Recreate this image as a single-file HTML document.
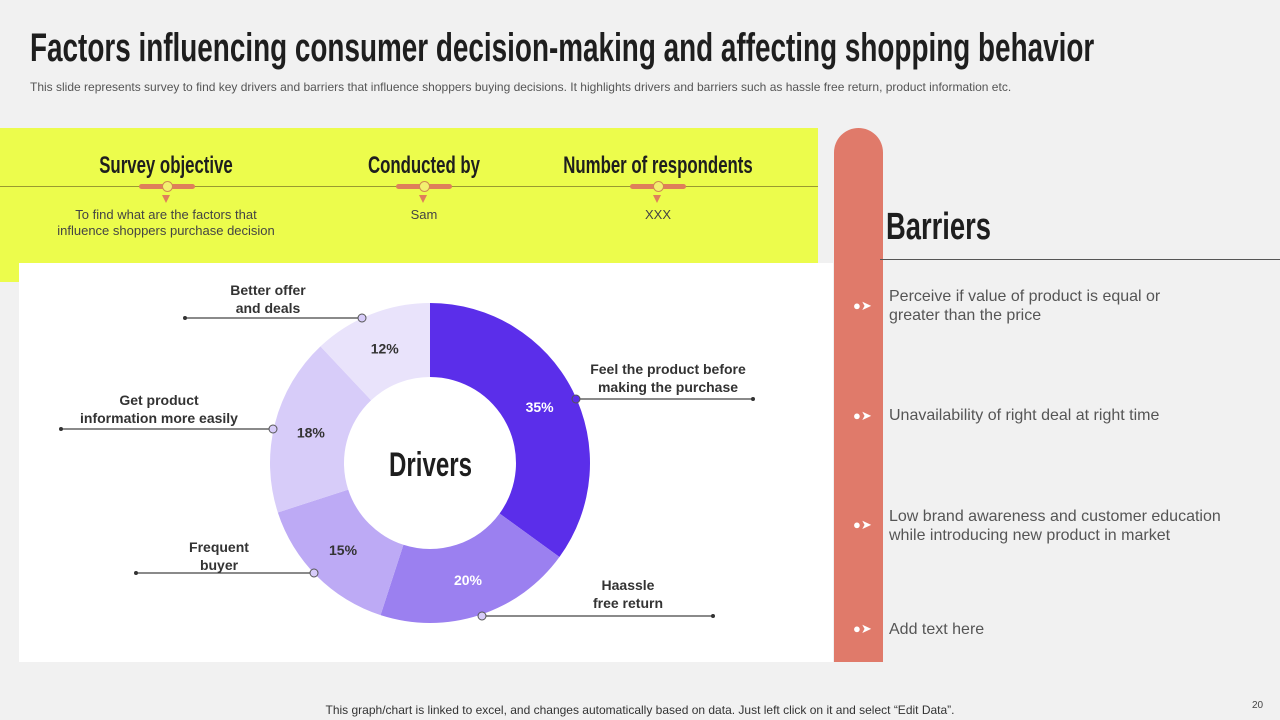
<!DOCTYPE html>
<html><head><meta charset="utf-8"><style>
body{margin:0;width:1280px;height:720px;background:#f1f1f1;position:relative;overflow:hidden;font-family:"Liberation Sans",sans-serif}
.abs{position:absolute}
.cond{font-family:"Liberation Sans",sans-serif;font-weight:bold;color:#1e1e1e;white-space:nowrap}
.hd{font-size:24px;text-align:center;width:300px;top:152px;transform:scaleX(0.7);transform-origin:center}
.sub{font-size:13px;color:#444;text-align:center;width:300px;top:207px;line-height:16px;white-space:nowrap}
.bar{top:184px;width:56px;height:5px;background:#df7f5a;border-radius:3px}
.dot{top:181px;width:9px;height:9px;border-radius:50%;background:#f2f070;border:1px solid #d08a50}
.tri{top:195px;width:0;height:0;border-left:4px solid transparent;border-right:4px solid transparent;border-top:8px solid #df7f5a}
.bt{left:889px;font-size:16px;color:#555;line-height:19px}
.ic{left:853px;color:#fff;font-size:13px}
</style></head><body>
<div class="abs cond" style="left:30px;top:26px;font-size:40px;transform:scaleX(0.697);transform-origin:left top">Factors influencing consumer decision-making and affecting shopping behavior</div>
<div class="abs" style="left:30px;top:80px;font-size:12px;color:#555;white-space:nowrap">This slide represents survey to find key drivers and barriers that influence shoppers buying decisions. It highlights drivers and barriers such as hassle free return, product information etc.</div>

<div class="abs" style="left:0;top:128px;width:818px;height:154px;background:#ecfc4c"></div>
<div class="abs" style="left:0;top:186px;width:818px;height:1px;background:#9a9a30"></div>
<div class="abs cond hd" style="left:16px">Survey objective</div>
<div class="abs cond hd" style="left:274px">Conducted by</div>
<div class="abs cond hd" style="left:508px">Number of respondents</div>
<div class="abs bar" style="left:139px"></div><div class="abs dot" style="left:162px"></div><div class="abs tri" style="left:162px"></div>
<div class="abs bar" style="left:396px"></div><div class="abs dot" style="left:419px"></div><div class="abs tri" style="left:419px"></div>
<div class="abs bar" style="left:630px"></div><div class="abs dot" style="left:653px"></div><div class="abs tri" style="left:653px"></div>
<div class="abs sub" style="left:16px">To find what are the factors that<br>influence shoppers purchase decision</div>
<div class="abs sub" style="left:274px">Sam</div>
<div class="abs sub" style="left:508px">XXX</div>

<div class="abs" style="left:19px;top:263px;width:814px;height:399px;background:#fff"></div>
<svg class="abs" style="left:0;top:0" width="1280" height="720" id="chart"></svg>

<div class="abs" style="left:834px;top:128px;width:49px;height:534px;background:#e07a6a;border-radius:25px 25px 0 0"></div>
<div class="abs cond" style="left:886px;top:206px;font-size:38px;transform:scaleX(0.72);transform-origin:left top">Barriers</div>
<div class="abs" style="left:880px;top:259px;width:400px;height:1px;background:#555"></div>
<div class="abs ic" style="top:298px">●➤</div>
<div class="abs bt" style="top:287px">Perceive if value of product is equal or<br>greater than the price</div>
<div class="abs ic" style="top:408px">●➤</div>
<div class="abs bt" style="top:406px">Unavailability of right deal at right time</div>
<div class="abs ic" style="top:517px">●➤</div>
<div class="abs bt" style="top:507px">Low brand awareness and customer education<br>while introducing new product in market</div>
<div class="abs ic" style="top:621px">●➤</div>
<div class="abs bt" style="top:620px">Add text here</div>

<div class="abs" style="left:0;width:1280px;text-align:center;top:703px;font-size:12px;color:#333">This graph/chart is linked to excel, and changes automatically based on data. Just left click on it and select “Edit Data”.</div>
<div class="abs" style="left:1252px;top:700px;font-size:10px;color:#444">20</div>

<script>
const categories=["Feel the product before making the purchase","Haassle free return","Frequent buyer","Get product information more easily","Better offer and deals"];
const values=[35,20,15,18,12];
const colors=["#5b2eea","#9b80f0","#bdaaf5","#d7ccf9","#e9e3fb"];
const labelColors=["#fff","#fff","#333","#333","#333"];
const svg=document.getElementById('chart');
const NS="http://www.w3.org/2000/svg";
const cx=430,cy=463,R=160,r=86;
const total=values.reduce((a,b)=>a+b,0);
function pt(a,rad){return [cx+rad*Math.sin(a),cy-rad*Math.cos(a)];}
let a0=0;
values.forEach((v,i)=>{
 const a1=a0+v/total*2*Math.PI;
 const [x0,y0]=pt(a0,R),[x1,y1]=pt(a1,R),[x2,y2]=pt(a1,r),[x3,y3]=pt(a0,r);
 const lg=(a1-a0)>Math.PI?1:0;
 const p=document.createElementNS(NS,'path');
 p.setAttribute('d',`M${x0},${y0}A${R},${R} 0 ${lg} 1 ${x1},${y1}L${x2},${y2}A${r},${r} 0 ${lg} 0 ${x3},${y3}Z`);
 p.setAttribute('fill',colors[i]);
 
 
 svg.appendChild(p);
 const [lx,ly]=pt((a0+a1)/2,(R+r)/2);
 const t=document.createElementNS(NS,'text');
 t.setAttribute('x',lx);t.setAttribute('y',ly+5);t.setAttribute('text-anchor','middle');
 t.setAttribute('font-size','14');t.setAttribute('font-weight','bold');t.setAttribute('fill',labelColors[i]);
 t.setAttribute('font-family','Liberation Sans, sans-serif');
 t.textContent=v+'%';
 
 
 svg.appendChild(t);
 a0=a1;
});
const c=document.createElementNS(NS,'text');
c.setAttribute('x',cx-41);c.setAttribute('y',cy+13);
c.setAttribute('textLength','83');c.setAttribute('lengthAdjust','spacingAndGlyphs');
c.setAttribute('font-size','34');c.setAttribute('font-weight','bold');c.setAttribute('fill','#1e1e1e');
c.setAttribute('font-family','Liberation Sans, sans-serif');
c.textContent='Drivers';


svg.appendChild(c);
const leaders=[[576,399,753,["Feel the product before","making the purchase"],668,362],
[482,616,713,["Haassle","free return"],628,578],
[314,573,136,["Frequent","buyer"],219,540],
[273,429,61,["Get product","information more easily"],159,393],
[362,318,185,["Better offer","and deals"],268,283]];
leaders.forEach((L,i)=>{
 const ln=document.createElementNS(NS,'line');
 ln.setAttribute('x1',L[0]);ln.setAttribute('y1',L[1]);ln.setAttribute('x2',L[2]);ln.setAttribute('y2',L[1]);
 ln.setAttribute('stroke','#444');ln.setAttribute('stroke-width','1.2');
 
 
 svg.appendChild(ln);
 const e=document.createElementNS(NS,'circle');
 e.setAttribute('cx',L[2]);e.setAttribute('cy',L[1]);e.setAttribute('r',2);e.setAttribute('fill','#333');
 
 
 svg.appendChild(e);
 const d=document.createElementNS(NS,'circle');
 d.setAttribute('cx',L[0]);d.setAttribute('cy',L[1]);d.setAttribute('r',4);d.setAttribute('fill',i==0?'#5b2eea':'#d7ccf9');d.setAttribute('stroke','#555');
 
 
 svg.appendChild(d);
 L[3].forEach((s,j)=>{
  const t=document.createElementNS(NS,'text');
  t.setAttribute('x',L[4]);t.setAttribute('y',L[5]+12+j*18);t.setAttribute('text-anchor','middle');
  t.setAttribute('font-size','14');t.setAttribute('font-weight','bold');t.setAttribute('fill','#333');
  t.setAttribute('font-family','Liberation Sans, sans-serif');
  t.textContent=s;
  
  
  svg.appendChild(t);
 });
});
</script>
</body></html>
